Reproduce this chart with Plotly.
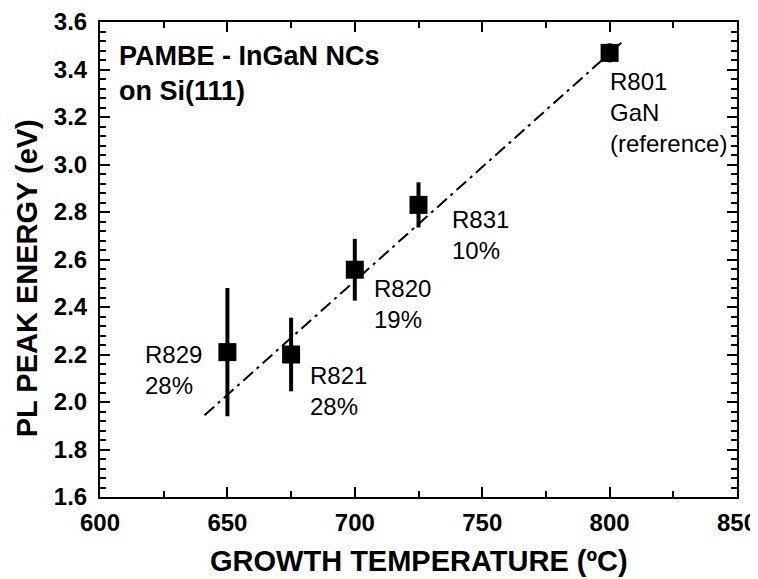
import plotly.graph_objects as go

# Data
temps = [650, 675, 700, 725, 800]
energies = [2.21, 2.20, 2.557, 2.83, 3.47]
errors = [0.27, 0.155, 0.13, 0.095, 0.04]
labels = ["R829<br>28%", "R821<br>28%", "R820<br>19%", "R831<br>10%", "R801<br>GaN<br>(reference)"]
label_x = [617, 681.6, 706.7, 737.4, 799.3]
label_y = [2.136, 2.046, 2.413, 2.704, 3.221]
fit_x = [641, 805]
fit_y = [1.944, 3.516]

FONT = "Arial, Liberation Sans, Helvetica, sans-serif"

fig = go.Figure()
fig.add_trace(go.Scatter(
    x=fit_x, y=fit_y, mode="lines",
    line=dict(color="black", width=2, dash="13px,5px,3px,5px"),
    showlegend=False, hoverinfo="skip"))
fig.add_trace(go.Scatter(
    x=temps, y=energies, mode="markers",
    marker=dict(symbol="square", size=18, color="black"),
    error_y=dict(type="data", array=errors, visible=True, thickness=4, width=0, color="black"),
    showlegend=False))

for lx, ly, t in zip(label_x, label_y, labels):
    fig.add_annotation(x=lx, y=ly, text=t, showarrow=False, xanchor="left", yanchor="middle",
                       align="left", font=dict(family=FONT, size=24, color="black"))

fig.add_annotation(x=0.0267, y=0.891, xref="paper", yref="paper",
                   text="PAMBE - InGaN NCs<br>on Si(111)", showarrow=False,
                   xanchor="left", yanchor="middle", align="left",
                   font=dict(family=FONT, size=27, color="black", weight="bold"))

fig.add_annotation(x=-0.115, y=0.46, xref="paper", yref="paper",
                   text="PL PEAK ENERGY (eV)", showarrow=False, textangle=-90,
                   xanchor="center", yanchor="middle",
                   font=dict(family=FONT, size=29, color="black", weight="bold"))

fig.add_annotation(x=0.5, y=-0.135, xref="paper", yref="paper",
                   text="GROWTH TEMPERATURE (ºC)", showarrow=False,
                   xanchor="center", yanchor="middle",
                   font=dict(family=FONT, size=29, color="black", weight="bold"))

axis_common = dict(
    showline=True, linecolor="black", linewidth=2, mirror="ticks",
    ticks="inside", tickcolor="black", tickwidth=2, ticklen=10,
    showgrid=False, zeroline=False, automargin=False,
    tickfont=dict(family=FONT, size=24, color="black", weight="bold"),
)

fig.update_xaxes(range=[600, 850], dtick=50, tick0=600, ticklabelstandoff=3,
                 minor=dict(dtick=25, ticks="inside", ticklen=6, tickwidth=2, tickcolor="black", showgrid=False),
                 **axis_common)
fig.update_yaxes(range=[1.6, 3.6], dtick=0.2, tick0=1.6, tickformat=".1f", ticklabelstandoff=6,
                 minor=dict(dtick=0.04, tick0=1.6, ticks="inside", ticklen=6, tickwidth=2, tickcolor="black", showgrid=False),
                 **axis_common)

# page body has an 8px margin, so the figure is 8px smaller than the window
fig.update_layout(
    width=750, height=571,
    margin=dict(l=92, r=21, t=14, b=82),
    plot_bgcolor="white", paper_bgcolor="white",
    font=dict(family=FONT, color="black"),
)

fig.write_html("out.html")
